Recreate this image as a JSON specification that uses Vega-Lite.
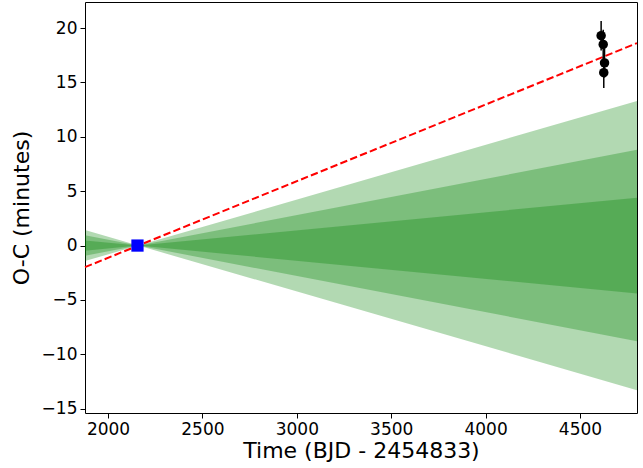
{
  "$schema": "https://vega.github.io/schema/vega-lite/v6.json",
  "width": 552,
  "height": 411,
  "autosize": "none",
  "padding": {"left": 85, "top": 2, "right": 6, "bottom": 55},
  "background": "white",
  "config": {
    "view": {"stroke": "black", "strokeWidth": 1},
    "font": "DejaVu Sans",
    "axis": {
      "grid": false,
      "domain": false,
      "tickColor": "black",
      "tickSize": 5,
      "labelPadding": 3,
      "labelColor": "black",
      "labelFontSize": 17,
      "titleFontSize": 22,
      "titleFontWeight": "normal",
      "titleColor": "black",
      "labelFont": "DejaVu Sans",
      "titleFont": "DejaVu Sans"
    }
  },
  "datasets": {
    "bands": [
      {"band": "outer", "time": 1878, "lo": -1.43, "hi": 1.43},
      {"band": "outer", "time": 2160, "lo": 0, "hi": 0},
      {"band": "outer", "time": 4802, "lo": -13.3, "hi": 13.3},
      {"band": "middle", "time": 1878, "lo": -0.94, "hi": 0.94},
      {"band": "middle", "time": 2160, "lo": 0, "hi": 0},
      {"band": "middle", "time": 4802, "lo": -8.8, "hi": 8.8},
      {"band": "inner", "time": 1878, "lo": -0.47, "hi": 0.47},
      {"band": "inner", "time": 2160, "lo": 0, "hi": 0},
      {"band": "inner", "time": 4802, "lo": -4.4, "hi": 4.4}
    ],
    "fit": [
      {"time": 1878, "oc": -1.99},
      {"time": 4802, "oc": 18.62}
    ],
    "obs": [
      {"time": 4612, "oc": 19.3, "err": 1.35},
      {"time": 4623, "oc": 18.5, "err": 1.35},
      {"time": 4630, "oc": 16.8, "err": 1.35},
      {"time": 4626, "oc": 15.9, "err": 1.4}
    ],
    "ref": [
      {"time": 2156, "oc": 0}
    ]
  },
  "layer": [
    {
      "data": {"name": "bands"},
      "mark": {"type": "area", "color": "green", "opacity": 0.3},
      "encoding": {
        "x": {"field": "time", "type": "quantitative", "scale": {"domain": [1878, 4802], "nice": false, "zero": false}, "axis": {"title": "Time (BJD - 2454833)", "values": [2000, 2500, 3000, 3500, 4000, 4500], "format": "d", "titlePadding": 3}},
        "y": {"field": "lo", "type": "quantitative", "scale": {"domain": [-15.4, 22.4], "nice": false, "zero": false}, "axis": {"title": "O-C (minutes)", "values": [-15, -10, -5, 0, 5, 10, 15, 20], "format": "d", "titlePadding": 8}},
        "y2": {"field": "hi"},
        "detail": {"field": "band"}
      }
    },
    {
      "data": {"name": "fit"},
      "mark": {"type": "line", "color": "red", "strokeWidth": 2, "strokeDash": [7.4, 3.2]},
      "encoding": {
        "x": {"field": "time", "type": "quantitative"},
        "y": {"field": "oc", "type": "quantitative"}
      }
    },
    {
      "data": {"name": "obs"},
      "transform": [
        {"calculate": "datum.oc - datum.err", "as": "lo"},
        {"calculate": "datum.oc + datum.err", "as": "hi"}
      ],
      "mark": {"type": "rule", "color": "black", "strokeWidth": 1.5},
      "encoding": {
        "x": {"field": "time", "type": "quantitative"},
        "y": {"field": "lo", "type": "quantitative"},
        "y2": {"field": "hi"}
      }
    },
    {
      "data": {"name": "obs"},
      "mark": {"type": "point", "shape": "circle", "filled": true, "color": "black", "opacity": 1, "size": 90},
      "encoding": {
        "x": {"field": "time", "type": "quantitative"},
        "y": {"field": "oc", "type": "quantitative"}
      }
    },
    {
      "data": {"name": "ref"},
      "mark": {"type": "point", "shape": "square", "filled": true, "color": "blue", "opacity": 1, "size": 150},
      "encoding": {
        "x": {"field": "time", "type": "quantitative"},
        "y": {"field": "oc", "type": "quantitative"}
      }
    }
  ]
}
